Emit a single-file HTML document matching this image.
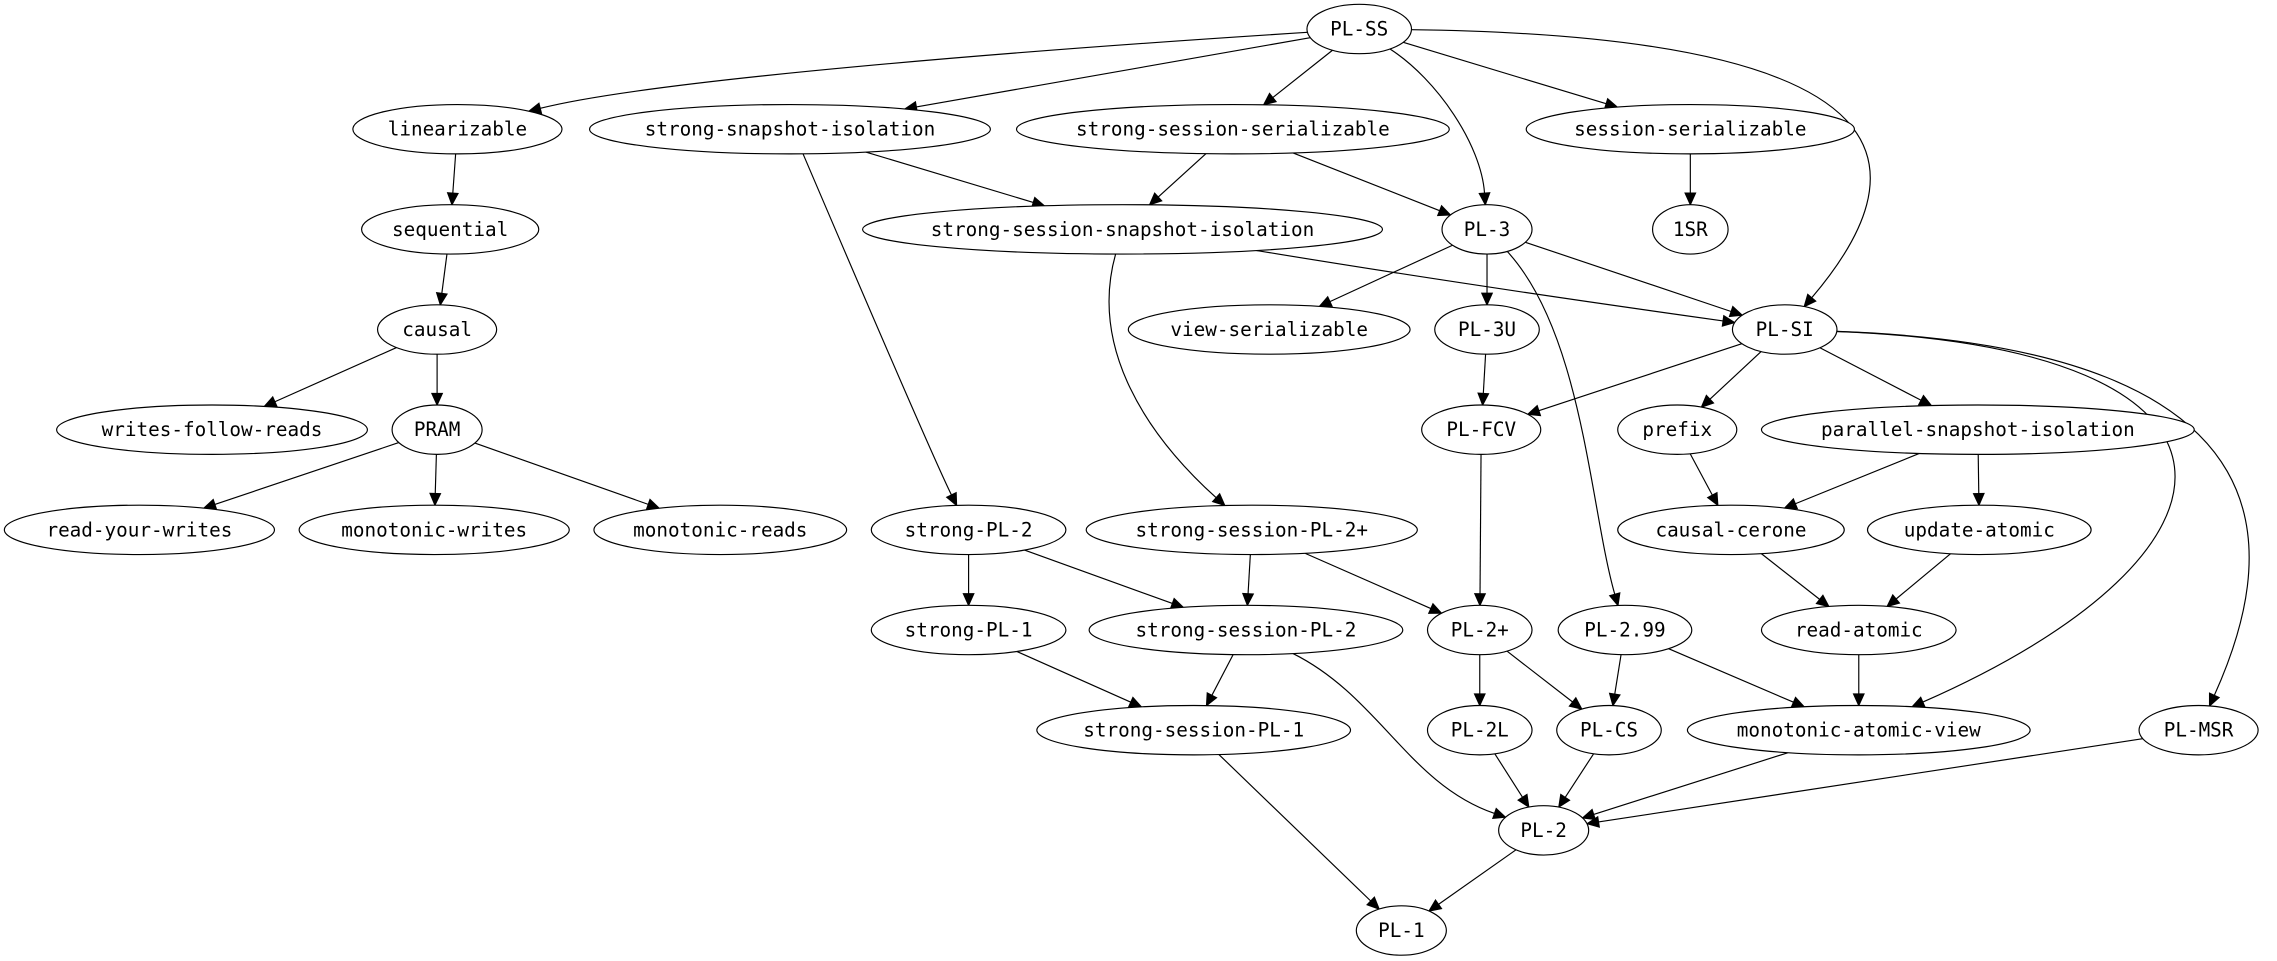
<!DOCTYPE html>
<html><head><meta charset="utf-8"><style>
html,body{margin:0;padding:0;background:#fff;width:2277px;height:961px;overflow:hidden}
svg text{font-family:"DejaVu Sans Mono","Liberation Mono",monospace;font-size:13.3px;fill:#000}
</style></head><body>
<svg id="g" width="2277" height="961" viewBox="0 0 1568 662" preserveAspectRatio="none" xmlns="http://www.w3.org/2000/svg">
<g id="edges" stroke="#000" stroke-width="0.8" fill="none"></g>
<g id="arrows" fill="#000" stroke="#000" stroke-width="0.8"></g>
<g id="nodes" fill="#fff" stroke="#000" stroke-width="0.8">
<ellipse cx="936" cy="20" rx="36" ry="17"/>
<ellipse cx="315" cy="89" rx="72" ry="17"/>
<ellipse cx="544" cy="89" rx="138" ry="17"/>
<ellipse cx="849" cy="89" rx="149" ry="17"/>
<ellipse cx="1164" cy="89" rx="113" ry="17"/>
<ellipse cx="310" cy="158" rx="61" ry="17"/>
<ellipse cx="773" cy="158" rx="179" ry="17"/>
<ellipse cx="1024" cy="158" rx="31" ry="17"/>
<ellipse cx="1164" cy="158" rx="26" ry="17"/>
<ellipse cx="301" cy="227" rx="41" ry="17"/>
<ellipse cx="874" cy="227" rx="97" ry="17"/>
<ellipse cx="1024" cy="227" rx="36" ry="17"/>
<ellipse cx="1229" cy="227" rx="36" ry="17"/>
<ellipse cx="146" cy="296" rx="107" ry="17"/>
<ellipse cx="301" cy="296" rx="31" ry="17"/>
<ellipse cx="1020" cy="296" rx="41" ry="17"/>
<ellipse cx="1155" cy="296" rx="41" ry="17"/>
<ellipse cx="1362" cy="296" rx="149" ry="17"/>
<ellipse cx="96" cy="365" rx="93" ry="17"/>
<ellipse cx="299" cy="365" rx="93" ry="17"/>
<ellipse cx="496" cy="365" rx="87" ry="17"/>
<ellipse cx="667" cy="365" rx="67" ry="17"/>
<ellipse cx="862" cy="365" rx="114" ry="17"/>
<ellipse cx="1192" cy="365" rx="78" ry="17"/>
<ellipse cx="1363" cy="365" rx="77" ry="17"/>
<ellipse cx="667" cy="434" rx="67" ry="17"/>
<ellipse cx="858" cy="434" rx="108" ry="17"/>
<ellipse cx="1019" cy="434" rx="36" ry="17"/>
<ellipse cx="1119" cy="434" rx="46" ry="17"/>
<ellipse cx="1280" cy="434" rx="67" ry="17"/>
<ellipse cx="822" cy="503" rx="108" ry="17"/>
<ellipse cx="1019" cy="503" rx="36" ry="17"/>
<ellipse cx="1108" cy="503" rx="36" ry="17"/>
<ellipse cx="1280" cy="503" rx="118" ry="17"/>
<ellipse cx="1514" cy="503" rx="41" ry="17"/>
<ellipse cx="1063" cy="572" rx="31" ry="17"/>
<ellipse cx="965" cy="641" rx="31" ry="17"/>
</g>
<g text-anchor="middle">
<text x="936" y="24.5">PL-SS</text>
<text x="315" y="93.5">linearizable</text>
<text x="544" y="93.5">strong-snapshot-isolation</text>
<text x="849" y="93.5">strong-session-serializable</text>
<text x="1164" y="93.5">session-serializable</text>
<text x="310" y="162.5">sequential</text>
<text x="773" y="162.5">strong-session-snapshot-isolation</text>
<text x="1024" y="162.5">PL-3</text>
<text x="1164" y="162.5">1SR</text>
<text x="301" y="231.5">causal</text>
<text x="874" y="231.5">view-serializable</text>
<text x="1024" y="231.5">PL-3U</text>
<text x="1229" y="231.5">PL-SI</text>
<text x="146" y="300.5">writes-follow-reads</text>
<text x="301" y="300.5">PRAM</text>
<text x="1020" y="300.5">PL-FCV</text>
<text x="1155" y="300.5">prefix</text>
<text x="1362" y="300.5">parallel-snapshot-isolation</text>
<text x="96" y="369.5">read-your-writes</text>
<text x="299" y="369.5">monotonic-writes</text>
<text x="496" y="369.5">monotonic-reads</text>
<text x="667" y="369.5">strong-PL-2</text>
<text x="862" y="369.5">strong-session-PL-2+</text>
<text x="1192" y="369.5">causal-cerone</text>
<text x="1363" y="369.5">update-atomic</text>
<text x="667" y="438.5">strong-PL-1</text>
<text x="858" y="438.5">strong-session-PL-2</text>
<text x="1019" y="438.5">PL-2+</text>
<text x="1119" y="438.5">PL-2.99</text>
<text x="1280" y="438.5">read-atomic</text>
<text x="822" y="507.5">strong-session-PL-1</text>
<text x="1019" y="507.5">PL-2L</text>
<text x="1108" y="507.5">PL-CS</text>
<text x="1280" y="507.5">monotonic-atomic-view</text>
<text x="1514" y="507.5">PL-MSR</text>
<text x="1063" y="576.5">PL-2</text>
<text x="965" y="645.5">PL-1</text>
</g>
</svg>
<script>
var N={
SS:[936,20,36],lin:[315,89,72],ssi:[544,89,138],sss:[849,89,149],ses:[1164,89,113],
seq:[310,158,61],sssi:[773,158,179],P3:[1024,158,31],SR:[1164,158,26],
cau:[301,227,41],vs:[874,227,97],P3U:[1024,227,36],PSI:[1229,227,36],
wfr:[146,296,107],PRAM:[301,296,31],FCV:[1020,296,41],pre:[1155,296,41],par:[1362,296,149],
ryw:[96,365,93],mw:[299,365,93],mr:[496,365,87],sP2:[667,365,67],ssP2p:[862,365,114],cc:[1192,365,78],ua:[1363,365,77],
sP1:[667,434,67],ssP2:[858,434,108],P2p:[1019,434,36],P299:[1119,434,46],ra:[1280,434,67],
ssP1:[822,503,108],P2L:[1019,503,36],PCS:[1108,503,36],mav:[1280,503,118],MSR:[1514,503,41],
P2:[1063,572,31],P1:[965,641,31]};
var RY=17,AL=8,AW=3.6;
function clip(n,px,py){var c=N[n];var dx=px-c[0],dy=py-c[1];var t=1/Math.sqrt(dx*dx/(c[2]*c[2])+dy*dy/(RY*RY));return [c[0]+dx*t,c[1]+dy*t];}
var E=[
['SS','lin',[700,35],[450,55]],['SS','ssi'],['SS','sss'],['SS','P3',[990,55],[1020,100]],['SS','ses'],['SS','PSI',[1330,25],[1320,120]],
['lin','seq'],['seq','cau'],['cau','wfr'],['cau','PRAM'],['PRAM','ryw'],['PRAM','mw'],['PRAM','mr'],
['ssi','sssi'],['ssi','sP2',[553,106],[640,310]],['sss','sssi'],['sss','P3'],
['sssi','PSI',[868,173],[1000,195]],['sssi','ssP2p',[750,240],[790,300]],['ses','SR'],
['P3','vs'],['P3','P3U'],['P3','PSI'],['P3','P299',[1090,230],[1095,350]],
['PSI','FCV'],['PSI','pre'],['PSI','par'],['PSI','mav',[1570,240],[1560,380]],['PSI','MSR',[1595,240],[1565,390]],
['P3U','FCV'],['FCV','P2p'],['pre','cc'],['par','cc'],['par','ua'],['cc','ra'],['ua','ra'],['ra','mav'],
['sP2','sP1'],['sP2','ssP2'],['ssP2p','ssP2'],['ssP2p','P2p'],['sP1','ssP1'],['ssP2','ssP1'],['ssP2','P2',[950,480],[970,540]],
['ssP1','P1'],['P2p','P2L'],['P2p','PCS'],['P299','PCS'],['P299','mav'],
['P2L','P2'],['PCS','P2'],['mav','P2'],['MSR','P2'],['P2','P1']];
var eg=document.getElementById('edges'),ag=document.getElementById('arrows'),ns='http://www.w3.org/2000/svg';
E.forEach(function(e){var a=N[e[0]],b=N[e[1]];var c1=e[2]||[b[0],b[1]],c2=e[3]||[a[0],a[1]];
var s=clip(e[0],c1[0],c1[1]);var t=clip(e[1],c2[0],c2[1]);
var dx=t[0]-c2[0],dy=t[1]-c2[1];if(!e[2]){dx=t[0]-s[0];dy=t[1]-s[1];}
var L=Math.sqrt(dx*dx+dy*dy);dx/=L;dy/=L;var ex=t[0]-dx*AL,ey=t[1]-dy*AL;
var p=document.createElementNS(ns,'path');
if(e[2])p.setAttribute('d','M'+s[0]+','+s[1]+' C'+c1[0]+','+c1[1]+' '+c2[0]+','+c2[1]+' '+ex+','+ey);
else p.setAttribute('d','M'+s[0]+','+s[1]+' L'+ex+','+ey);
eg.appendChild(p);
var q=document.createElementNS(ns,'polygon');
q.setAttribute('points',t[0]+','+t[1]+' '+(ex-dy*AW)+','+(ey+dx*AW)+' '+(ex+dy*AW)+','+(ey-dx*AW));
ag.appendChild(q);});
</script>
</body></html>
